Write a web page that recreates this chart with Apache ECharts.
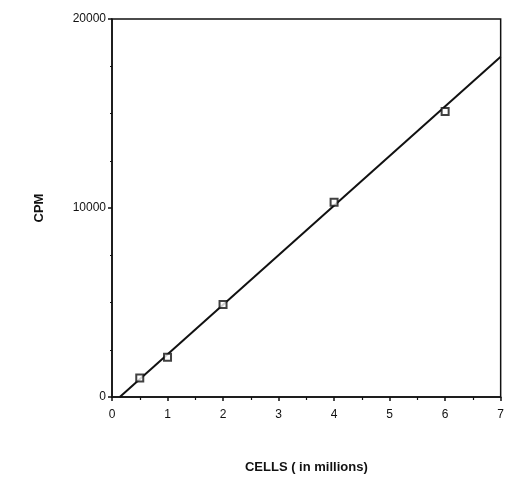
<!DOCTYPE html>
<html><head><meta charset="utf-8">
<script src="https://cdn.jsdelivr.net/npm/echarts@6/dist/echarts.min.js"></script>
<style>html,body{margin:0;padding:0;background:#fff}#c{width:507px;height:479px}</style>
</head><body><div id="c"></div>
<script>
const cells = [0.5, 1, 2, 4, 6];
const cpm = [1000, 2100, 4900, 10300, 15100];
const fitX = [0.14, 7];
const fitY = [0, 18000];
const xTicks = [0,1,2,3,4,5,6,7];
const yTicks = [0, 10000, 20000];

const chart = echarts.init(document.getElementById('c'));
const font = 'Liberation Sans, Arial, sans-serif';
chart.setOption({
  animation: false,
  backgroundColor: '#fff',
  grid: {left: 112, right: 4, top: 19, bottom: 76, show: true, borderColor: '#111', borderWidth: 1.5},
  xAxis: {
    type: 'value', min: 0, max: 7, interval: 1,
    name: 'CELLS ( in millions)', nameLocation: 'middle', nameGap: 64,
    nameTextStyle: {fontFamily: font, fontWeight: 'bold', fontSize: 13, color: '#111'},
    axisLine: {show: true, lineStyle: {color: '#111', width: 1.5}},
    axisTick: {show: true, length: 4, lineStyle: {color: '#111', width: 1.5}},
    minorTick: {show: true, splitNumber: 2, length: 3, lineStyle: {color: '#111', width: 1.2}},
    splitLine: {show: false},
    axisLabel: {fontFamily: font, fontSize: 12, color: '#111', margin: 12, formatter: v => xTicks.includes(v) ? String(v) : ''}
  },
  yAxis: {
    type: 'value', min: 0, max: 20000, interval: 10000,
    name: 'CPM', nameLocation: 'middle', nameGap: 66, nameRotate: 90,
    nameTextStyle: {fontFamily: font, fontWeight: 'bold', fontSize: 13, color: '#111'},
    axisLine: {show: true, lineStyle: {color: '#111', width: 1.5}},
    axisTick: {show: true, length: 4, lineStyle: {color: '#111', width: 1.5}},
    minorTick: {show: true, splitNumber: 4, length: 2, lineStyle: {color: '#111', width: 1}},
    splitLine: {show: false},
    axisLabel: {fontFamily: font, fontSize: 12, color: '#111', margin: 6, formatter: v => yTicks.includes(v) ? String(v) : ''}
  },
  series: [
    {type: 'line', data: fitX.map((x, i) => [x, fitY[i]]), showSymbol: false, symbol: 'none',
     lineStyle: {color: '#111', width: 2}, z: 2},
    {type: 'scatter', data: cells.map((x, i) => [x, cpm[i]]), symbol: 'rect', symbolSize: 7,
     itemStyle: {color: '#fff', borderColor: '#111', borderWidth: 2}, z: 3}
  ]
});
</script></body></html>
